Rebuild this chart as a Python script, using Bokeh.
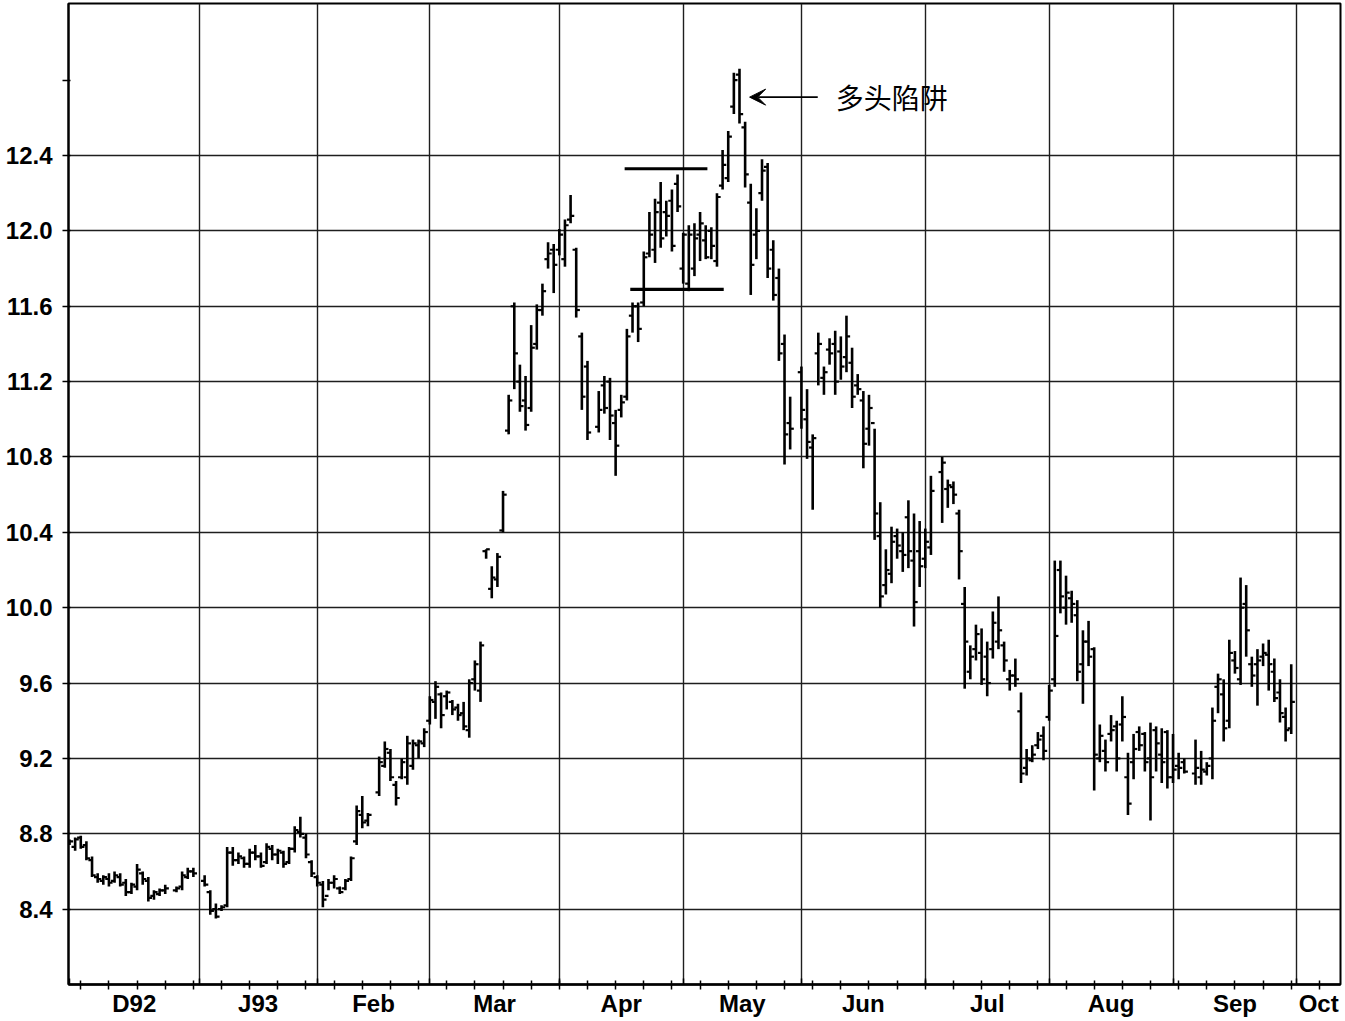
from bokeh.plotting import figure
from bokeh.models import (ColumnDataSource, FixedTicker, LinearAxis, Range1d,
                          Arrow, VeeHead, NumeralTickFormatter)
from bokeh.core.properties import value
from bokeh.embed import file_html
from bokeh.resources import INLINE

# ---------------- data (weekday index counted from 1 Dec 1992) ----------------
day = [
    0, 1, 2, 3, 4, 5, 6, 7, 8, 9, 10, 11, 12, 13, 14, 15, 16, 17, 19, 20, 21, 22,            # Dec
    24, 25, 26, 27, 28, 29, 30, 31, 32, 33, 34, 35, 36, 37, 38, 39, 40, 41, 42, 43,          # Jan
    44, 45, 46, 47, 48, 49, 50, 51, 52, 53, 55, 56, 57, 58, 59, 60, 61, 62, 63,              # Feb
    64, 65, 66, 67, 68, 69, 70, 71, 72, 73, 74, 75, 76, 77, 78, 79, 80, 81, 82, 83, 84, 85, 86,  # Mar
    87, 88, 89, 90, 91, 92, 94, 95, 96, 97, 98, 99, 100, 101, 102, 103, 104, 105, 106, 107, 108,  # Apr
    109, 110, 111, 112, 113, 114, 115, 116, 117, 118, 119, 120, 121, 122, 123, 124, 125, 126, 127, 128,  # May
    130, 131, 132, 133, 134, 135, 136, 137, 138, 139, 140, 141, 142, 143, 144, 145, 146, 147, 148, 149, 150, 151,  # Jun
    152, 153, 155, 156, 157, 158, 159, 160, 161, 162, 163, 164, 165, 166, 167, 168, 169, 170, 171, 172, 173,  # Jul
    174, 175, 176, 177, 178, 179, 180, 181, 182, 183, 184, 185, 186, 187, 188, 189, 190, 191, 192, 193, 194, 195,  # Aug
    196, 197, 198, 200, 201, 202, 203, 204, 205, 206, 207, 208, 209, 210, 211, 212, 213, 214, 215, 216, 217,  # Sep
]
high = [
    8.77, 8.78, 8.79, 8.76, 8.68, 8.59, 8.58, 8.59, 8.60, 8.59, 8.56, 8.54, 8.64, 8.60, 8.57, 8.50, 8.51, 8.53, 8.52, 8.60, 8.62, 8.62,
    8.58, 8.50, 8.43, 8.42, 8.73, 8.73, 8.70, 8.68, 8.72, 8.74, 8.70, 8.75, 8.74, 8.72, 8.71, 8.73, 8.84, 8.89, 8.80, 8.66,
    8.58, 8.55, 8.56, 8.58, 8.52, 8.56, 8.68, 8.95, 9.00, 8.91, 9.21, 9.29, 9.25, 9.08, 9.20, 9.32, 9.30, 9.30, 9.36,
    9.53, 9.61, 9.55, 9.56, 9.51, 9.49, 9.50, 9.62, 9.72, 9.82, 10.31, 10.22, 10.29, 10.62, 11.13, 11.62, 11.29, 11.23, 11.50, 11.61, 11.72, 11.94, 11.93,
    12.01, 12.06, 12.19, 11.91, 11.46, 11.31, 11.15, 11.23, 11.22, 11.05, 11.13, 11.48, 11.62, 11.62, 11.89, 12.10, 12.17, 12.26, 12.16, 12.22, 12.30,
    11.99, 12.03, 12.04, 12.10, 12.03, 12.02, 12.20, 12.43, 12.53, 12.84, 12.86, 12.58, 12.25, 12.12, 12.38, 12.36, 11.95, 11.80, 11.45, 11.12,
    11.28, 11.16, 10.92, 11.46, 11.28, 11.43, 11.47, 11.44, 11.55, 11.38, 11.24, 11.15, 11.13, 10.95, 10.56, 10.31, 10.43, 10.42, 10.40, 10.57, 10.50, 10.46,
    10.42, 10.70, 10.80, 10.68, 10.67, 10.52, 10.11, 9.80, 9.91, 9.89, 9.82, 9.98, 10.06, 9.82, 9.67, 9.73, 9.55, 9.25, 9.27, 9.34, 9.37,
    9.59, 10.25, 10.25, 10.17, 10.09, 10.04, 9.88, 9.93, 9.79, 9.38, 9.30, 9.43, 9.40, 9.53, 9.23, 9.33, 9.37, 9.34, 9.39, 9.37, 9.36, 9.35,
    9.33, 9.23, 9.20, 9.30, 9.24, 9.18, 9.47, 9.65, 9.62, 9.83, 9.77, 10.16, 10.12, 9.74, 9.78, 9.81, 9.83, 9.73, 9.62, 9.47, 9.70,
]
low = [
    8.74, 8.71, 8.72, 8.66, 8.57, 8.54, 8.53, 8.52, 8.54, 8.52, 8.47, 8.48, 8.50, 8.53, 8.44, 8.45, 8.47, 8.48, 8.49, 8.50, 8.56, 8.57,
    8.52, 8.37, 8.35, 8.39, 8.41, 8.63, 8.64, 8.62, 8.62, 8.66, 8.62, 8.64, 8.66, 8.64, 8.62, 8.64, 8.70, 8.78, 8.67, 8.57,
    8.52, 8.41, 8.50, 8.51, 8.48, 8.50, 8.55, 8.74, 8.83, 8.84, 9.00, 9.15, 9.08, 8.95, 9.09, 9.06, 9.14, 9.20, 9.26,
    9.38, 9.41, 9.36, 9.46, 9.43, 9.40, 9.35, 9.31, 9.56, 9.50, 10.26, 10.05, 10.11, 10.40, 10.92, 11.16, 11.04, 10.94, 11.04, 11.37, 11.55, 11.80, 11.67,
    11.87, 11.81, 12.04, 11.54, 11.05, 10.89, 10.93, 11.03, 10.89, 10.70, 11.01, 11.10, 11.46, 11.41, 11.60, 11.86, 11.83, 11.91, 11.97, 11.89, 12.10,
    11.72, 11.68, 11.76, 11.84, 11.85, 11.85, 11.81, 12.22, 12.26, 12.62, 12.57, 12.23, 11.66, 11.85, 12.16, 11.75, 11.63, 11.31, 10.76, 10.84,
    10.95, 10.79, 10.52, 11.18, 11.13, 11.29, 11.13, 11.21, 11.25, 11.06, 11.13, 10.74, 10.86, 10.36, 10.00, 10.07, 10.13, 10.26, 10.19, 10.21, 9.90, 10.11,
    10.21, 10.28, 10.45, 10.53, 10.55, 10.15, 9.57, 9.62, 9.72, 9.59, 9.53, 9.73, 9.78, 9.66, 9.56, 9.58, 9.07, 9.11, 9.18, 9.25, 9.19,
    9.40, 9.58, 9.97, 9.91, 9.92, 9.61, 9.49, 9.69, 9.03, 9.18, 9.13, 9.29, 9.13, 9.29, 8.90, 9.09, 9.24, 9.13, 8.87, 9.13, 9.07, 9.04,
    9.07, 9.09, 9.12, 9.06, 9.06, 9.11, 9.09, 9.44, 9.29, 9.36, 9.65, 9.59, 9.74, 9.58, 9.48, 9.69, 9.56, 9.50, 9.39, 9.29, 9.33,
]
open_ = [
    8.75, 8.73, 8.78, 8.74, 8.66, 8.57, 8.55, 8.56, 8.55, 8.57, 8.54, 8.49, 8.52, 8.59, 8.55, 8.47, 8.48, 8.50, 8.50, 8.52, 8.57, 8.60,
    8.55, 8.49, 8.40, 8.40, 8.42, 8.70, 8.66, 8.67, 8.64, 8.70, 8.68, 8.65, 8.72, 8.69, 8.70, 8.65, 8.72, 8.81, 8.78, 8.65,
    8.57, 8.53, 8.47, 8.54, 8.51, 8.51, 8.56, 8.76, 8.90, 8.87, 9.02, 9.16, 9.23, 9.06, 9.10, 9.10, 9.16, 9.27, 9.28,
    9.40, 9.50, 9.54, 9.53, 9.50, 9.47, 9.44, 9.35, 9.62, 9.56, 10.30, 10.10, 10.15, 10.41, 10.94, 11.60, 11.20, 11.10, 11.06, 11.40, 11.58, 11.85, 11.90,
    11.90, 11.85, 12.06, 11.90, 11.44, 11.28, 10.96, 11.18, 11.20, 10.98, 11.05, 11.12, 11.55, 11.60, 11.62, 11.88, 11.90, 12.15, 12.10, 12.16, 12.25,
    11.80, 11.72, 11.80, 11.98, 11.95, 12.00, 11.84, 12.24, 12.28, 12.66, 12.83, 12.55, 12.15, 11.98, 12.20, 12.34, 11.90, 11.75, 11.40, 10.98,
    11.25, 11.00, 10.85, 11.35, 11.22, 11.37, 11.40, 11.36, 11.33, 11.30, 11.18, 11.10, 10.95, 10.98, 10.38, 10.12, 10.18, 10.38, 10.30, 10.48, 10.25, 10.30,
    10.26, 10.32, 10.72, 10.63, 10.64, 10.50, 10.02, 9.66, 9.78, 9.76, 9.74, 9.78, 9.82, 9.80, 9.62, 9.64, 9.45, 9.15, 9.19, 9.27, 9.32,
    9.42, 9.62, 10.20, 10.00, 10.05, 9.96, 9.70, 9.82, 9.78, 9.20, 9.24, 9.33, 9.37, 9.38, 9.10, 9.18, 9.34, 9.33, 9.20, 9.35, 9.22, 9.34,
    9.10, 9.16, 9.18, 9.12, 9.10, 9.13, 9.20, 9.58, 9.54, 9.40, 9.72, 9.62, 10.02, 9.70, 9.70, 9.74, 9.75, 9.66, 9.55, 9.42, 9.36,
]
close = [
    8.76, 8.77, 8.73, 8.67, 8.58, 8.56, 8.57, 8.54, 8.58, 8.53, 8.49, 8.53, 8.61, 8.56, 8.46, 8.49, 8.50, 8.51, 8.51, 8.58, 8.60, 8.59,
    8.53, 8.39, 8.36, 8.41, 8.70, 8.66, 8.68, 8.64, 8.70, 8.68, 8.63, 8.73, 8.69, 8.71, 8.64, 8.72, 8.82, 8.80, 8.69, 8.59,
    8.54, 8.45, 8.54, 8.56, 8.49, 8.55, 8.67, 8.92, 8.86, 8.90, 9.18, 9.25, 9.10, 8.99, 9.18, 9.28, 9.28, 9.29, 9.34,
    9.51, 9.58, 9.43, 9.55, 9.46, 9.43, 9.37, 9.60, 9.70, 9.80, 10.31, 10.16, 10.27, 10.60, 11.10, 11.35, 11.07, 10.97, 11.38, 11.58, 11.68, 11.88, 11.82,
    11.98, 12.03, 12.08, 11.58, 11.12, 10.93, 11.05, 11.06, 11.02, 10.86, 11.09, 11.44, 11.60, 11.48, 11.86, 11.98, 12.10, 11.96, 12.08, 11.92, 12.13,
    11.98, 11.98, 11.96, 12.04, 11.86, 11.92, 12.18, 12.35, 12.50, 12.80, 12.62, 12.30, 11.82, 12.00, 12.32, 11.80, 11.66, 11.35, 10.92, 10.95,
    11.05, 10.88, 10.90, 11.40, 11.25, 11.35, 11.20, 11.28, 11.44, 11.12, 11.16, 10.87, 11.06, 10.50, 10.06, 10.20, 10.35, 10.33, 10.28, 10.30, 10.03, 10.22,
    10.35, 10.62, 10.77, 10.65, 10.60, 10.30, 9.82, 9.74, 9.86, 9.62, 9.60, 9.92, 9.88, 9.72, 9.64, 9.62, 9.12, 9.20, 9.22, 9.30, 9.24,
    9.56, 9.85, 10.06, 10.08, 10.02, 9.66, 9.82, 9.74, 9.22, 9.32, 9.18, 9.35, 9.20, 9.42, 8.96, 9.25, 9.27, 9.18, 9.10, 9.28, 9.18, 9.10,
    9.14, 9.15, 9.13, 9.15, 9.14, 9.16, 9.40, 9.62, 9.36, 9.76, 9.68, 10.00, 9.88, 9.64, 9.72, 9.76, 9.70, 9.52, 9.44, 9.35, 9.50,
]

month_labels = ["D92", "J93", "Feb", "Mar", "Apr", "May", "Jun", "Jul", "Aug", "Sep", "Oct"]
month_start = [0, 23, 44, 64, 87, 109, 130, 152, 174, 196, 218]
week_ticks = [2 + 5 * k for k in range(45)]
y_ticks = [8.4, 8.8, 9.2, 9.6, 10.0, 10.4, 10.8, 11.2, 11.6, 12.0, 12.4]
y_top_tick = 12.8

# annotation: congestion range lines and the bull-trap note
range_level = [12.33, 11.69]
range_from = [98.6, 99.6]
range_to = [113.3, 116.2]
trap_text = "多头陷阱"
trap_level = 12.71
trap_arrow_from, trap_arrow_to = 132.9, 120.8
trap_text_x = 136.1

# ---------------- figure ----------------
X0, X1 = -0.18, 225.75
Y0, Y1 = 8.0, 13.207

p = figure(width=1344, height=1020, x_range=Range1d(X0, X1), y_range=Range1d(Y0, Y1),
           output_backend="svg", toolbar_location=None,
           min_border_left=68, min_border_right=4, min_border_top=3, min_border_bottom=36)
p.background_fill_color = "white"
p.border_fill_color = "white"
p.outline_line_color = "black"
p.outline_line_width = 2

FONT = "Liberation Sans"

# bottom axis: month names centred in each month, weekly small ticks
mid = [(month_start[k] + month_start[k + 1]) / 2 for k in range(len(month_start) - 1)]
mid.append((month_start[-1] + X1) / 2)
xa = p.xaxis[0]
xa.ticker = FixedTicker(ticks=mid, minor_ticks=week_ticks)
xa.major_label_overrides = {m: lab for m, lab in zip(mid, month_labels)}
xa.major_tick_in = 0
xa.major_tick_out = 0
xa.minor_tick_in = 4
xa.minor_tick_out = 5
xa.minor_tick_line_width = 1.5
xa.minor_tick_line_color = "black"
xa.axis_line_width = 2.5
xa.axis_line_color = "black"
xa.major_label_standoff = 0
xa.major_label_text_font = FONT
xa.major_label_text_font_style = "bold"
xa.major_label_text_font_size = "24px"
xa.major_label_text_color = "black"

# long ticks at month boundaries
mt = LinearAxis(ticker=FixedTicker(ticks=month_start, minor_ticks=[]), fixed_location=Y0,
                major_tick_in=6, major_tick_out=14, major_tick_line_width=1.5,
                major_tick_line_color="black", minor_tick_line_color=None,
                axis_line_color=None, major_label_text_font_size="0px",
                major_label_overrides={m: "" for m in month_start})
p.add_layout(mt, "below")

# left axis
ya = p.yaxis[0]
ya.ticker = FixedTicker(ticks=y_ticks + [y_top_tick])
ya.formatter = NumeralTickFormatter(format="0.0")
ya.major_label_overrides = {y_top_tick: ""}
ya.major_tick_out = 6
ya.major_tick_in = 2
ya.major_tick_line_width = 1.5
ya.major_tick_line_color = "black"
ya.minor_tick_out = 0
ya.minor_tick_in = 0
ya.axis_line_width = 2
ya.axis_line_color = "black"
ya.major_label_standoff = 10
ya.major_label_text_font = FONT
ya.major_label_text_font_style = "bold"
ya.major_label_text_font_size = "24px"
ya.major_label_text_color = "black"

# grids
p.xgrid.ticker = FixedTicker(ticks=month_start[1:])
p.ygrid.ticker = FixedTicker(ticks=y_ticks)
for g in (p.xgrid, p.ygrid):
    g.grid_line_color = "#1e1e1e"
    g.grid_line_width = 1.4

# ---------------- bars ----------------
src = ColumnDataSource(dict(
    x=day, o=open_, h=high, l=low, c=close,
    xl=[d - 0.65 for d in day], xr=[d + 0.65 for d in day],
))
p.segment(x0="x", y0="l", x1="x", y1="h", source=src, line_color="black", line_width=2.6)
p.segment(x0="xl", y0="o", x1="x", y1="o", source=src, line_color="black", line_width=2.2)
p.segment(x0="x", y0="c", x1="xr", y1="c", source=src, line_color="black", line_width=2.2)

# range lines
p.segment(x0=range_from, y0=range_level, x1=range_to, y1=range_level,
          line_color="black", line_width=3.2)

# arrow + label
p.add_layout(Arrow(end=VeeHead(size=16, fill_color="black", fill_alpha=1.0,
                               line_color="black", line_width=1),
                   x_start=trap_arrow_from, y_start=trap_level,
                   x_end=trap_arrow_to, y_end=trap_level,
                   line_color="black", line_width=1.6))
p.text(x=[trap_text_x], y=[trap_level], text=[trap_text],
       text_font=value("Noto Sans CJK SC"), text_font_size="28px",
       text_baseline="middle", text_align="left", text_color="black")

open("out.html", "w").write(file_html(p, INLINE))
